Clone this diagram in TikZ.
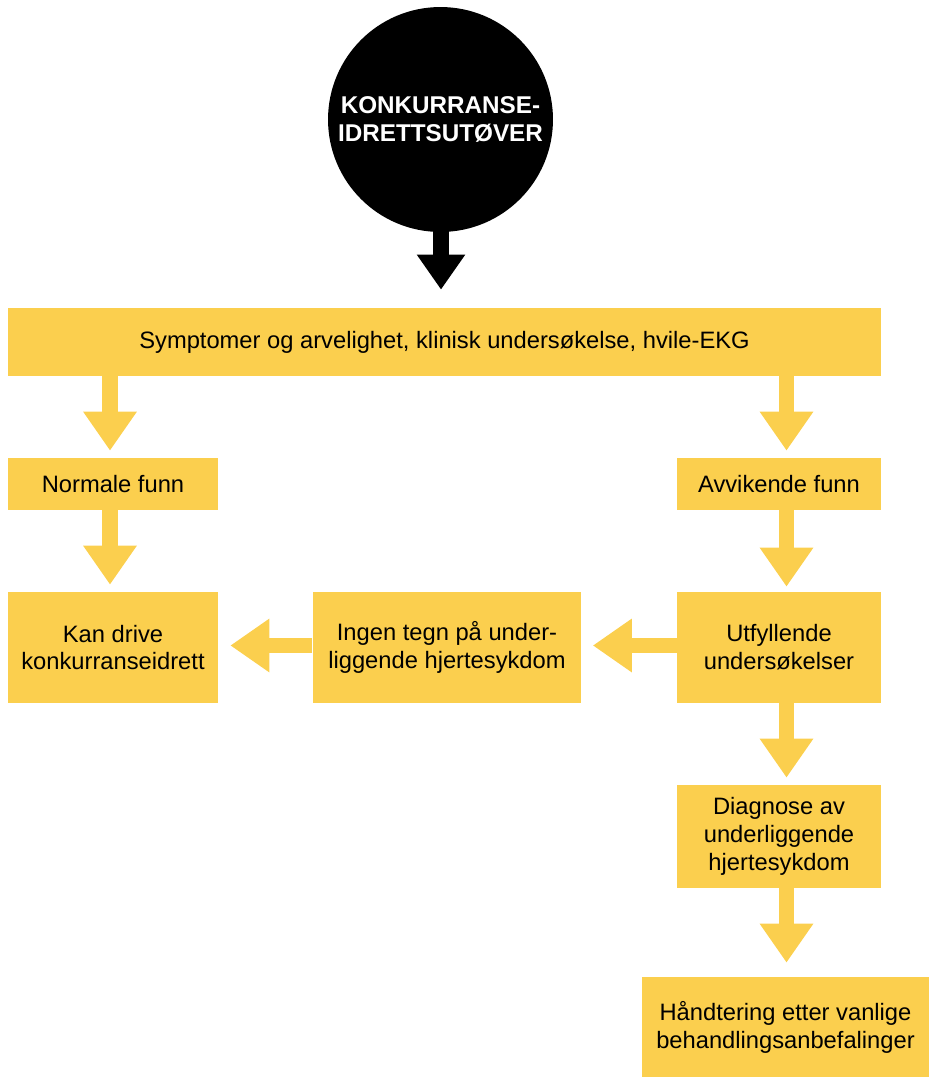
\documentclass[tikz,border=0pt]{standalone}
\usepackage{fontspec}
\setmainfont{Liberation Sans}
\usepackage{xcolor}
\usetikzlibrary{arrows.meta}
\definecolor{boxcolor}{HTML}{FBCF4E}

\begin{document}
\begin{tikzpicture}[x=0.02cm, y=-0.02cm,
  box/.style={rectangle, fill=boxcolor, inner sep=0pt, align=center, font=\fontsize{13.5pt}{15.9pt}\selectfont},
  flow/.style={draw=boxcolor, line width=0.31cm, -{Triangle[width=1.02cm,length=0.78cm]}, shorten >=0.14cm},
  startflow/.style={draw=black, line width=0.32cm, -{Triangle[width=0.92cm,length=0.7cm]}, shorten >=0.36cm}]%
\useasboundingbox (0,0) rectangle (929,1077);%
\node[circle, fill=black, minimum size=4.5cm, inner sep=0pt, align=center, text=white, font=\fontsize{13.8pt}{16pt}\selectfont\bfseries] (athlete) at (440.5,119.5) {KONKURRANSE-\\IDRETTSUTØVER};%
\node[box, minimum width=17.46cm, minimum height=1.36cm] (screen) at (444.5,342) {Symptomer og arvelighet, klinisk undersøkelse, hvile-EKG};%
\node[box, minimum width=4.2cm, minimum height=1.04cm] (normal) at (113,484) {Normale funn};%
\node[box, minimum width=4.08cm, minimum height=1.04cm] (abnormal) at (779,484) {Avvikende funn};%
\node[box, minimum width=4.2cm, minimum height=2.22cm] (compete) at (113,647.5) {Kan drive\\konkurranseidrett};%
\node[box, minimum width=5.38cm, minimum height=2.22cm] (nodisease) at (447,647.5) {Ingen tegn på under-\\liggende hjertesykdom};%
\node[box, minimum width=4.08cm, minimum height=2.22cm] (workup) at (779,647.5) {Utfyllende\\undersøkelser};%
\node[box, minimum width=4.08cm, minimum height=2.06cm] (diagnosis) at (779,836.5) {Diagnose av\\underliggende\\hjertesykdom};%
\node[box, minimum width=5.74cm, minimum height=2cm] (treatment) at (785.5,1027) {Håndtering etter vanlige\\behandlingsanbefalinger};%
\coordinate (leftcol) at (110,0);%
\coordinate (rightcol) at (786.5,0);%
\coordinate (startcol) at (441,0);%
\coordinate (arrowrow) at (0,645.5);%
\draw[startflow] ([yshift=0.1cm]athlete.south -| startcol) -- (screen.north -| startcol);%
\draw[flow] (screen.south -| leftcol) -- (normal.north -| leftcol);%
\draw[flow] (screen.south -| rightcol) -- (abnormal.north -| rightcol);%
\draw[flow] (normal.south -| leftcol) -- (compete.north -| leftcol);%
\draw[flow, shorten >=0.1cm] (abnormal.south -| rightcol) -- (workup.north -| rightcol);%
\draw[flow, shorten >=0.22cm] (workup.west |- arrowrow) -- (nodisease.east |- arrowrow);%
\draw[flow, shorten >=0.24cm] (nodisease.west |- arrowrow) -- (compete.east |- arrowrow);%
\draw[flow] (workup.south -| rightcol) -- (diagnosis.north -| rightcol);%
\draw[flow, shorten >=0.28cm] (diagnosis.south -| rightcol) -- (treatment.north -| rightcol);%
\end{tikzpicture}
\end{document}
